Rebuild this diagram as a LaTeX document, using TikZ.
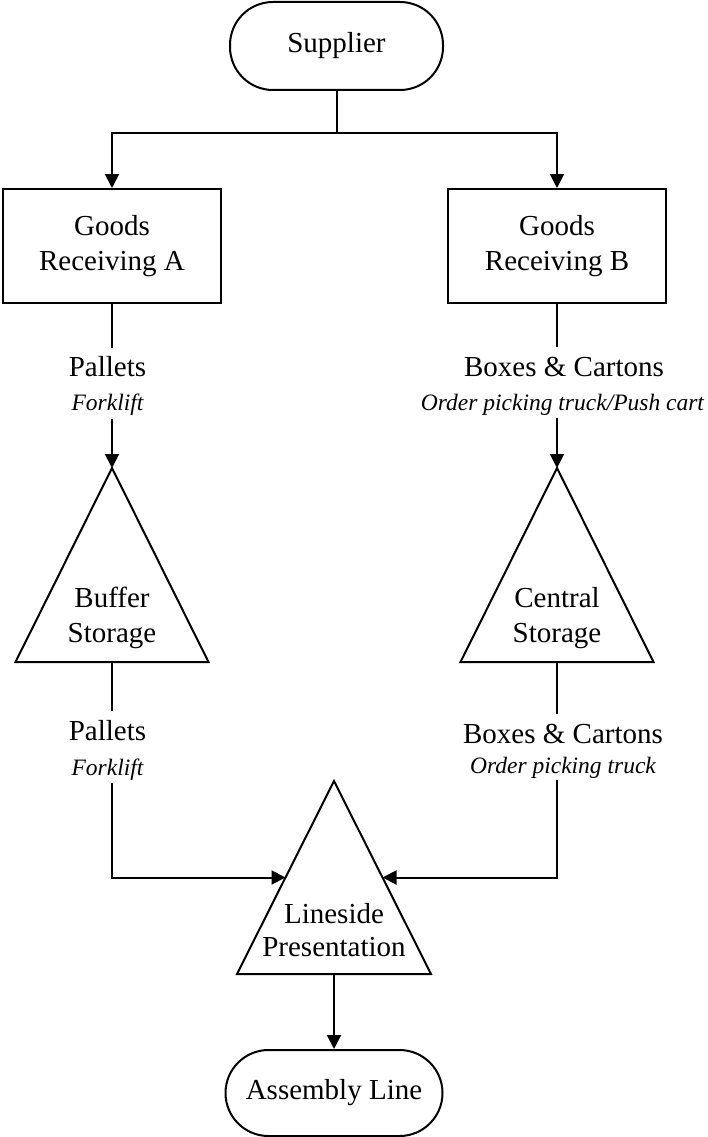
\documentclass[tikz,border=0pt]{standalone}
\usepackage{fontspec}
\setmainfont{Liberation Serif}
\usetikzlibrary{arrows.meta,calc}
\begin{document}
\begin{tikzpicture}[x=1pt,y=-1pt,
  mainfont/.style={font=\fontsize{29}{35}\selectfont},
  terminal/.style={draw, line width=2pt, rounded corners=43pt, minimum width=213pt, minimum height=88pt, inner sep=0pt, mainfont},
  process/.style={draw, line width=2pt, minimum width=218pt, minimum height=114pt, align=center, inner sep=0pt, mainfont},
  storetext/.style={align=center, inner sep=0pt, mainfont},
  store/.style={draw, line width=2pt, line join=miter},
  flow/.style={mainfont, anchor=base, inner sep=0pt, text height=20pt, text depth=6pt},
  means/.style={font=\fontsize{23.5}{28}\selectfont\itshape, anchor=base, inner sep=0pt, text height=17pt, text depth=6pt},
  link/.style={draw, line width=2pt},
  arrow/.style={draw, line width=2pt, -{Triangle[length=14pt,width=14pt]}},
]
\useasboundingbox (0,0) rectangle (708,1137);

% source and receiving areas
\node[terminal] (supplier) at (336.5,46) {Supplier};
\node[process] (recA) at (112,246) {Goods\\Receiving A};
\node[process] (recB) at (557,246) {Goods\\Receiving B};

\coordinate (split) at (336.5,133);
\draw[link] (supplier.south) -- (split);
\draw[arrow] (split) -| (recA.north);
\draw[arrow] (split) -| (recB.north);

% storage triangles
\coordinate (bufTop) at (112,468);
\coordinate (bufL) at (15.5,662);
\coordinate (bufR) at (208.5,662);
\draw[store] (bufTop) -- (bufR) -- (bufL) -- cycle;
\coordinate (bufBase) at ($(bufL)!0.5!(bufR)$);
\node[storetext] (buffer) at (112,617.7) {Buffer\\Storage};

\coordinate (cenTop) at (557,468);
\coordinate (cenL) at (460.5,662);
\coordinate (cenR) at (653.5,662);
\draw[store] (cenTop) -- (cenR) -- (cenL) -- cycle;
\coordinate (cenBase) at ($(cenL)!0.5!(cenR)$);
\node[storetext] (central) at (557,617.7) {Central\\Storage};

\coordinate (lsTop) at (334,781);
\coordinate (lsL) at (237,974);
\coordinate (lsR) at (431,974);
\draw[store] (lsTop) -- (lsR) -- (lsL) -- cycle;
\coordinate (lsBase) at ($(lsL)!0.5!(lsR)$);
\coordinate (lsWest) at ($(lsTop)!0.5!(lsL)$);
\coordinate (lsEast) at ($(lsTop)!0.5!(lsR)$);
\node[storetext, font=\fontsize{29}{33}\selectfont] (lineside) at (334,930) {Lineside\\Presentation};

\node[terminal, minimum width=217pt, minimum height=86pt] (assembly) at (334,1093) {Assembly Line};

% receiving -> storage
\node[flow] (palA) at (107.5,376) {Pallets};
\node[means] (fkA) at (107.5,410) {Forklift};
\draw[link, shorten >=8pt] (recA.south) -- (recA.south |- palA.north);
\draw[arrow, shorten <=3pt] (recA.south |- fkA.south) -- (bufTop);

\node[flow] (boxA) at (564,376) {Boxes \& Cartons};
\node[means] (opA) at (562.5,410) {Order picking truck/Push cart};
\draw[link, shorten >=9pt] (recB.south) -- (recB.south |- boxA.north);
\draw[arrow, shorten <=2pt] (recB.south |- opA.south) -- (cenTop);

% storage -> lineside
\node[flow] (palB) at (107.5,740) {Pallets};
\node[means] (fkB) at (107.5,775) {Forklift};
\draw[link, shorten >=9pt] (bufBase) -- (bufBase |- palB.north);
\draw[arrow, shorten <=2pt] (bufBase |- fkB.south) |- (lsWest);

\node[flow] (boxB) at (563,743) {Boxes \& Cartons};
\node[means] (opB) at (563,773) {Order picking truck};
\draw[link, shorten >=9pt] (cenBase) -- (cenBase |- boxB.north);
\draw[arrow, shorten <=1pt] (cenBase |- opB.south) |- (lsEast);

% lineside -> assembly
\draw[arrow] (lsBase) -- (assembly.north);
\end{tikzpicture}
\end{document}
